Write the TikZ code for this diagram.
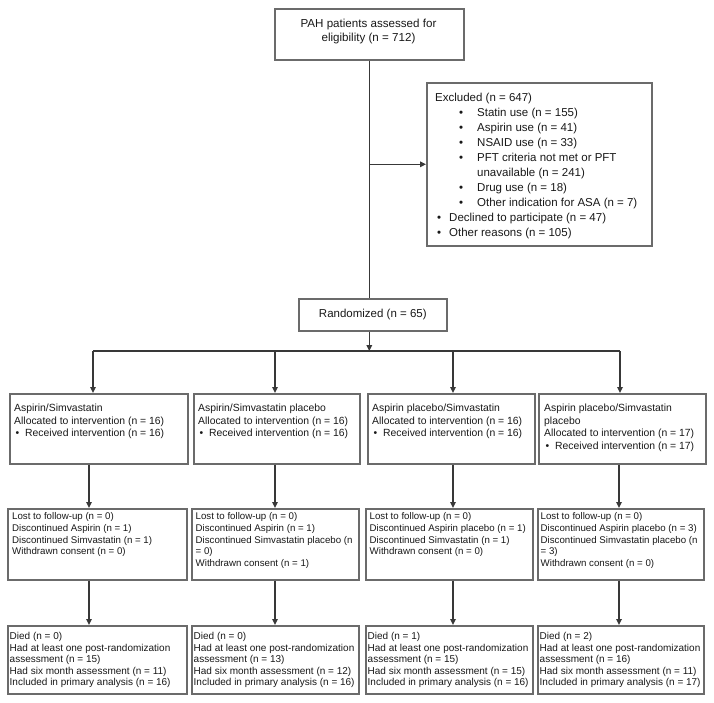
\documentclass[tikz,border=0pt]{standalone}
\usepackage{fontspec}
\setmainfont{Liberation Sans}
\usetikzlibrary{arrows.meta}
\definecolor{boxgray}{gray}{0.42}
\definecolor{linegray}{gray}{0.22}
\definecolor{txtgray}{gray}{0.1}
\newcommand{\subbul}[1]{\hspace*{24pt}\makebox[18pt][l]{\textbullet}#1}
\newcommand{\topbul}[1]{\hspace*{2pt}\makebox[12pt][l]{\textbullet}#1}
\newcommand{\rbul}[1]{\hspace*{1.5pt}\makebox[9.5pt][l]{\textbullet}#1}
\begin{document}
\begin{tikzpicture}[x=1pt,y=-1pt,
  box/.style={draw=boxgray,line width=1.6pt,rectangle,inner sep=0pt,anchor=north west,fill=white},
  txt/.style={inner sep=0pt,anchor=north west,align=left,text=txtgray},
  rowa/.style={txt,font=\fontsize{10.4}{12.5}\selectfont},
  rowb/.style={txt,font=\fontsize{9.7}{11.8}\selectfont},
  rowc/.style={txt,font=\fontsize{10}{11.5}\selectfont},
  conn/.style={draw=linegray,line width=1.5pt},
  arr/.style={conn,-{Triangle[length=6pt,width=5.5pt]}}]
\path[use as bounding box,fill=white] (0,0) rectangle (714,703);

% top part
\node[box,minimum width=189pt,minimum height=51pt] (top) at (274,8) {};
\node[txt,anchor=center,align=center,font=\fontsize{11.6}{14}\selectfont] (toptxt) at (368.5,32) {PAH patients assessed for\\eligibility (n = 712)};

\node[box,minimum width=225pt,minimum height=163pt] (excl) at (426,82) {};
\node[txt,font=\fontsize{11.5}{15}\selectfont] (excltxt) at (435,92.6) {Excluded (n = 647)\\
\subbul{Statin use (n = 155)}\\
\subbul{Aspirin use (n = 41)}\\
\subbul{NSAID use (n = 33)}\\
\subbul{PFT criteria not met or PFT}\\
\hspace*{42pt}unavailable (n = 241)\\
\subbul{Drug use (n = 18)}\\
\subbul{Other indication for ASA (n = 7)}\\
\topbul{Declined to participate (n = 47)}\\
\topbul{Other reasons (n = 105)}};

\node[box,minimum width=148pt,minimum height=32pt,text=txtgray,font=\fontsize{11.5}{14}\selectfont] (rand) at (298,298) {Randomized (n = 65)};

% row 1
\node[box,minimum width=178pt,minimum height=70pt] (r1c1) at (9,393) {};
\node[box,minimum width=166pt,minimum height=70pt] (r1c2) at (193,393) {};
\node[box,minimum width=167pt,minimum height=70pt] (r1c3) at (367,393) {};
\node[box,minimum width=167pt,minimum height=70pt] (r1c4) at (538,393) {};
\node[rowa] (t1c1) at (14,404.1) {Aspirin/Simvastatin\\Allocated to intervention (n = 16)\\\rbul{Received intervention (n = 16)}};
\node[rowa] (t1c2) at (198,404.1) {Aspirin/Simvastatin placebo\\Allocated to intervention (n = 16)\\\rbul{Received intervention (n = 16)}};
\node[rowa] (t1c3) at (372,404.1) {Aspirin placebo/Simvastatin\\Allocated to intervention (n = 16)\\\rbul{Received intervention (n = 16)}};
\node[rowa] (t1c4) at (544,404.1) {Aspirin placebo/Simvastatin\\placebo\\Allocated to intervention (n = 17)\\\rbul{Received intervention (n = 17)}};

% row 2
\node[box,minimum width=179pt,minimum height=71pt] (r2c1) at (7,508) {};
\node[box,minimum width=167pt,minimum height=71pt] (r2c2) at (191,508) {};
\node[box,minimum width=167pt,minimum height=71pt] (r2c3) at (365,508) {};
\node[box,minimum width=166pt,minimum height=71pt] (r2c4) at (537,508) {};
\node[rowb] (t2c1) at (12,512.3) {Lost to follow-up (n = 0)\\Discontinued Aspirin (n = 1)\\Discontinued Simvastatin (n = 1)\\Withdrawn consent (n = 0)};
\node[rowb] (t2c2) at (195.5,512.3) {Lost to follow-up (n = 0)\\Discontinued Aspirin (n = 1)\\Discontinued Simvastatin placebo (n\\= 0)\\Withdrawn consent (n = 1)};
\node[rowb] (t2c3) at (369.5,512.3) {Lost to follow-up (n = 0)\\Discontinued Aspirin placebo (n = 1)\\Discontinued Simvastatin (n = 1)\\Withdrawn consent (n = 0)};
\node[rowb] (t2c4) at (540.5,512.3) {Lost to follow-up (n = 0)\\Discontinued Aspirin placebo (n = 3)\\Discontinued Simvastatin placebo (n\\= 3)\\Withdrawn consent (n = 0)};

% row 3
\node[box,minimum width=179pt,minimum height=68pt] (r3c1) at (7,625) {};
\node[box,minimum width=167pt,minimum height=68pt] (r3c2) at (191,625) {};
\node[box,minimum width=167pt,minimum height=68pt] (r3c3) at (365,625) {};
\node[box,minimum width=166pt,minimum height=68pt] (r3c4) at (537,625) {};
\node[rowc] (t3c1) at (9.5,632.3) {Died (n = 0)\\Had at least one post-randomization\\assessment (n = 15)\\Had six month assessment (n = 11)\\Included in primary analysis (n = 16)};
\node[rowc] (t3c2) at (193.5,632.3) {Died (n = 0)\\Had at least one post-randomization\\assessment (n = 13)\\Had six month assessment (n = 12)\\Included in primary analysis (n = 16)};
\node[rowc] (t3c3) at (367.5,632.3) {Died (n = 1)\\Had at least one post-randomization\\assessment (n = 15)\\Had six month assessment (n = 15)\\Included in primary analysis (n = 16)};
\node[rowc] (t3c4) at (539.5,632.3) {Died (n = 2)\\Had at least one post-randomization\\assessment (n = 16)\\Had six month assessment (n = 11)\\Included in primary analysis (n = 17)};

% branch coordinates
\coordinate (b1) at (93,351);
\coordinate (b2) at (275,351);
\coordinate (b3) at (453,351);
\coordinate (b4) at (620,351);
\coordinate (k1) at (89,0);
\coordinate (k2) at (275,0);
\coordinate (k3) at (453,0);
\coordinate (k4) at (619,0);

% connectors
\draw[conn] (top.south) -- (top.south |- rand.north);
\draw[arr] (excl.west -| top.south) -- (excl.west);
\draw[arr] (top.south |- rand.south) -- (top.south |- b1);
\draw[conn] (b1) -- (b4);
\draw[arr] (b1) -- (b1 |- r1c1.north);
\draw[arr] (b2) -- (b2 |- r1c2.north);
\draw[arr] (b3) -- (b3 |- r1c3.north);
\draw[arr] (b4) -- (b4 |- r1c4.north);
\draw[arr] (r1c1.south -| k1) -- (r2c1.north -| k1);
\draw[arr] (r1c2.south -| k2) -- (r2c2.north -| k2);
\draw[arr] (r1c3.south -| k3) -- (r2c3.north -| k3);
\draw[arr] (r1c4.south -| k4) -- (r2c4.north -| k4);
\draw[arr] (r2c1.south -| k1) -- (r3c1.north -| k1);
\draw[arr] (r2c2.south -| k2) -- (r3c2.north -| k2);
\draw[arr] (r2c3.south -| k3) -- (r3c3.north -| k3);
\draw[arr] (r2c4.south -| k4) -- (r3c4.north -| k4);
\end{tikzpicture}
\end{document}
